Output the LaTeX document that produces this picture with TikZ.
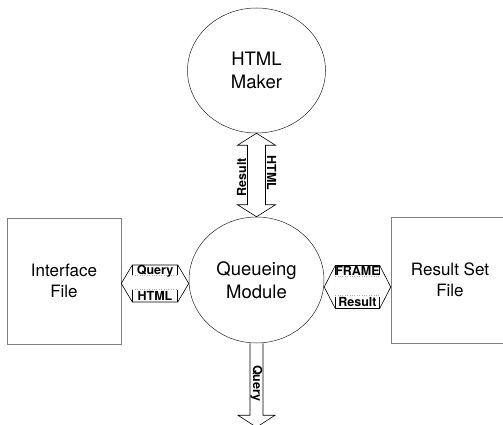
\documentclass[tikz,border=0pt]{standalone}
\usepackage{fontspec}
\setmainfont{TeX Gyre Heros}
\usepackage{tikz}
\usetikzlibrary{calc,positioning,shapes.geometric}

\begin{document}
\begin{tikzpicture}[
    x=1pt, y=-1pt,
    blob/.style={ellipse, draw=black!85, line width=0.5pt, align=center, inner sep=0,
        font=\fontsize{18.5}{23.5}\selectfont},
    filebox/.style={rectangle, draw=black!50, line width=0.6pt, align=center,
        font=\fontsize{17}{21}\selectfont},
    pipe/.style={draw, line width=0.6pt, line join=miter},
    shaft/.style={draw, black!30, dotted, line width=0.4pt},
    tag/.style={inner sep=0, font=\bfseries\fontsize{12.5}{12.5}\selectfont}]
\path[use as bounding box, clip] (0,0) rectangle (503,425);

\node[blob, minimum width=138, minimum height=125] (MAKER) at (256.5,70.5) {HTML\\Maker};
\node[blob, minimum width=135, minimum height=126] (QUEUE) at (256.5,280) {Queueing\\Module};
\node[filebox, minimum width=114, minimum height=126] (IFILE) at (64,281) {Interface\\File};
\node[filebox, minimum width=118, minimum height=126] (RSFILE) at (450,280) {Result Set\\File};

\coordinate (VT) at (MAKER.south);
\coordinate (VB) at (QUEUE.north);
\path[pipe] (VT) -- ++(-19,12) -- ++(10,0) -- ([shift={(-9,-12)}]VB) -- ++(-10,0) -- (VB)
    -- ++(19,-12) -- ++(-10,0) -- ([shift={(9,12)}]VT) -- ++(10,0) -- cycle;
\node[tag, anchor=base, rotate=90] (VRES) at ($(VT)!0.5!(VB)+(-10.5,2)$) {Result};
\node[tag, anchor=base, rotate=-90] (VHTML) at ($(VT)!0.5!(VB)+(10.5,-2)$) {HTML};

\coordinate (LA) at ([yshift=-2.5pt]IFILE.east);
\coordinate (LB) at ([yshift=-3.5pt]QUEUE.west);
\path[pipe] (LA) -- ++(11,-18.5) -- ([shift={(-11,-18.5)}]LB) -- (LB) -- ++(-11,18.5)
    -- ([shift={(11,18.5)}]LA) -- cycle;
\path[pipe] ([shift={(11,-18.5)}]LA) -- ++(0,9.5);
\path[pipe] ([shift={(-11,-18.5)}]LB) -- ++(0,9.5);
\path[pipe] ([shift={(11,18.5)}]LA) -- ++(0,-12);
\path[pipe] ([shift={(-11,18.5)}]LB) -- ++(0,-12);
\path[shaft] ([shift={(11,-8)}]LA) -- ([shift={(-11,-8)}]LB);
\path[shaft] ([shift={(11,5.5)}]LA) -- ([shift={(-11,5.5)}]LB);
\node[tag, anchor=base] (LQUERY) at ($(LA)!0.5!(LB)+(0,-9)$) {Query};
\node[tag, anchor=base] (LHTML) at ($(LA)!0.5!(LB)+(0,16.5)$) {HTML};

\coordinate (RA) at ([yshift=-7pt]QUEUE.east);
\coordinate (RB) at ([yshift=-7pt]RSFILE.west);
\path[pipe] (RA) -- ++(11,-21.5) -- ([shift={(-11,-21.5)}]RB) -- (RB) -- ++(-11,21.5)
    -- ([shift={(11,21.5)}]RA) -- cycle;
\path[pipe] ([shift={(11,-21.5)}]RA) -- ++(0,9.5);
\path[pipe] ([shift={(-11,-21.5)}]RB) -- ++(0,9.5);
\path[pipe] ([shift={(11,21.5)}]RA) -- ++(0,-12);
\path[pipe] ([shift={(-11,21.5)}]RB) -- ++(0,-12);
\path[shaft] ([shift={(11,-10.5)}]RA) -- ([shift={(-11,-10.5)}]RB);
\path[shaft] ([shift={(11,8.5)}]RA) -- ([shift={(-11,8.5)}]RB);
\node[tag, anchor=base] (RFRAME) at ($(RA)!0.5!(RB)+(0,-12)$) {FRAME};
\node[tag, anchor=base] (RRES) at ($(RA)!0.5!(RB)+(0,19.5)$) {Result};

\coordinate (OUT) at ([yshift=-84pt]QUEUE.south);
\path[pipe] ([xshift=-6.5pt]QUEUE.south) -- ([shift={(-6.5,-12)}]OUT) -- ++(-12,0) -- (OUT)
    -- ++(18.5,-12) -- ++(-12,0) -- ([xshift=6.5pt]QUEUE.south);
\node[tag, rotate=-90] (DQUERY) at ($(QUEUE.south)!0.5!(OUT)+(0,-2)$) {Query};

\end{tikzpicture}
\end{document}
